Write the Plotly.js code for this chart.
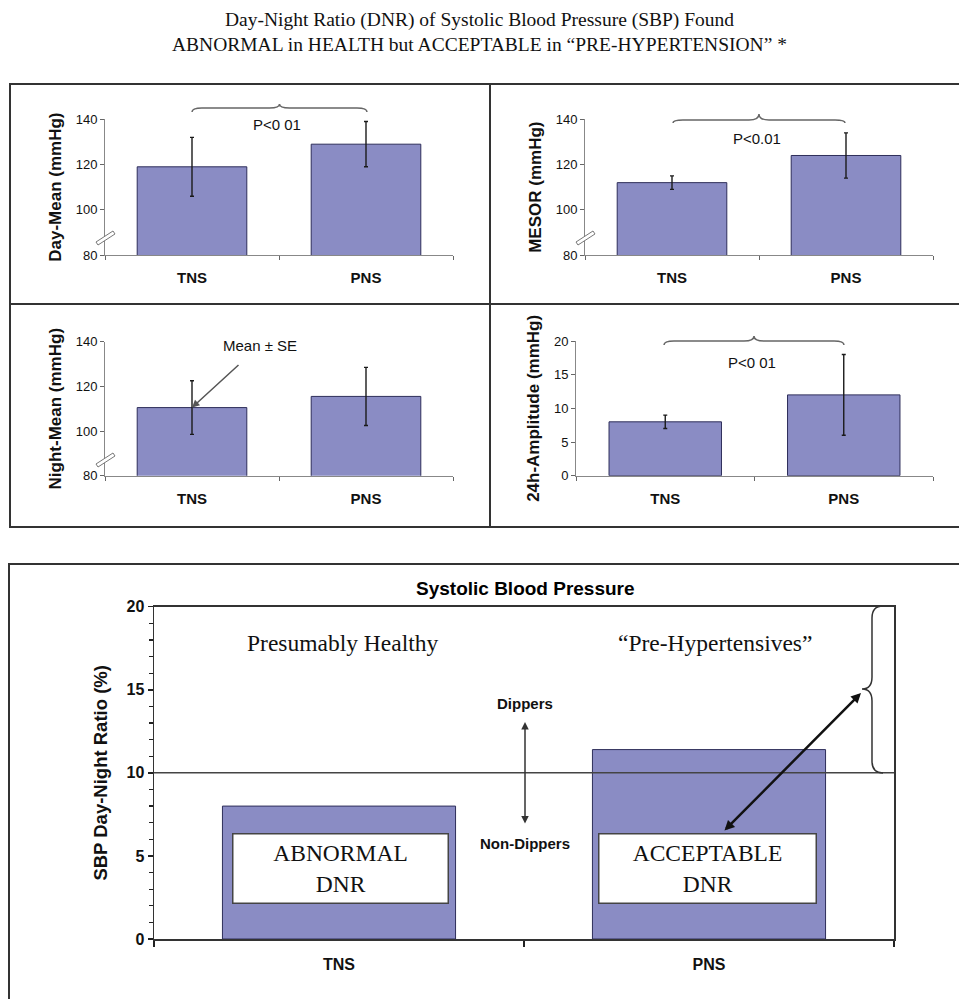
<!DOCTYPE html>
<html>
<head>
<meta charset="utf-8">
<script src="https://cdn.plot.ly/plotly-3.0.1.min.js"></script>
<style>html,body{margin:0;padding:0;background:#fff;}#chart{width:959px;height:999px;}</style>
</head>
<body>
<div id="chart"></div>
<script>
// ---------------- data ----------------
const categories = ['TNS', 'PNS'];
const dayMean = [119, 129];
const dayMeanSE = [13, 10];
const mesor = [112, 124];
const mesorSE = [3, 10];
const nightMean = [110.5, 115.5];
const nightMeanSE = [12, 13];
const amplitude = [8, 12];
const amplitudeSE = [1, 6];
const dnr = [8.0, 11.4];
const dnrThreshold = 10;
const bpTicks = [80, 100, 120, 140];
const ampTicks = [0, 5, 10, 15, 20];

// ---------------- helpers ----------------
const W = 959, H = 999;
const px = x => x / W;
const py = y => 1 - y / H;
const SANS = 'Liberation Sans, Arial, sans-serif';
const SERIF = 'Liberation Serif, Times New Roman, serif';
const barColor = '#8A8CC4';
const P = (x, y) => px(x).toFixed(5) + ',' + py(y).toFixed(5);

function hBrace(x1, x2, yEnd, yLine, yPeak) {
  const xm = (x1 + x2) / 2, r = 10;
  return 'M' + P(x1, yEnd) + ' Q' + P(x1, yLine) + ' ' + P(x1 + r, yLine) +
    ' L' + P(xm - r, yLine) + ' Q' + P(xm, yLine) + ' ' + P(xm, yPeak) +
    ' Q' + P(xm, yLine) + ' ' + P(xm + r, yLine) +
    ' L' + P(x2 - r, yLine) + ' Q' + P(x2, yLine) + ' ' + P(x2, yEnd);
}
function vBrace(xEnd, xLine, xTip, y1, y2, ym) {
  const r = 12;
  return 'M' + P(xEnd, y1) + ' Q' + P(xLine, y1) + ' ' + P(xLine, y1 + r) +
    ' L' + P(xLine, ym - r) + ' Q' + P(xLine, ym) + ' ' + P(xTip, ym) +
    ' Q' + P(xLine, ym) + ' ' + P(xLine, ym + r) +
    ' L' + P(xLine, y2 - r) + ' Q' + P(xLine, y2) + ' ' + P(xEnd, y2);
}
function breakMark(cx, cy) {
  return 'M' + P(cx - 9, cy + 4) + ' L' + P(cx + 8, cy - 7) + ' L' + P(cx + 10, cy - 4) +
    ' L' + P(cx - 7, cy + 7) + ' Z';
}

function barTrace(vals, se, xa, ya) {
  const t = {
    type: 'bar', x: categories, y: vals, xaxis: xa, yaxis: ya,
    marker: {color: barColor, line: {color: '#2E2E5A', width: 1}},
    hoverinfo: 'none', showlegend: false
  };
  if (se) t.error_y = {type: 'data', array: se, visible: true, color: '#1a1a1a', thickness: 1.4, width: 2};
  return t;
}

const data = [
  barTrace(dayMean, dayMeanSE, 'x', 'y'),
  barTrace(mesor, mesorSE, 'x2', 'y2'),
  barTrace(nightMean, nightMeanSE, 'x3', 'y3'),
  barTrace(amplitude, amplitudeSE, 'x4', 'y4'),
  barTrace(dnr, null, 'x5', 'y5')
];

function topX(domain) {
  return {
    domain: domain, type: 'category', tickson: 'boundaries', ticks: 'outside', ticklen: 4,
    tickcolor: '#666', showline: true, linecolor: '#888', linewidth: 1, showgrid: false,
    zeroline: false, fixedrange: true, ticklabelstandoff: 9,
    tickfont: {family: SANS, size: 15, weight: 'bold', color: '#111'}
  };
}
function topY(domain, range, ticks, title) {
  return {
    domain: domain, range: range, tickvals: ticks, ticks: 'outside', ticklen: 4,
    tickcolor: '#666', showline: true, linecolor: '#888', linewidth: 1, showgrid: false,
    zeroline: false, fixedrange: true,
    tickfont: {family: SANS, size: 13, color: '#111'},
    title: {text: title, font: {family: SANS, size: 17, weight: 'bold', color: '#111'}, standoff: 9}
  };
}

const boxLine = {color: '#333', width: 2};
const shapes = [
  // panel frames
  {type: 'rect', xref: 'paper', yref: 'paper', x0: px(10), x1: px(965), y0: py(527), y1: py(84), line: boxLine},
  {type: 'line', xref: 'paper', yref: 'paper', x0: px(490), x1: px(490), y0: py(527), y1: py(84), line: boxLine},
  {type: 'line', xref: 'paper', yref: 'paper', x0: px(10), x1: px(965), y0: py(304), y1: py(304), line: boxLine},
  {type: 'rect', xref: 'paper', yref: 'paper', x0: px(9), x1: px(965), y0: py(1005), y1: py(564), line: boxLine},
  // significance braces
  {type: 'path', xref: 'paper', yref: 'paper', path: hBrace(192, 367, 112, 108, 104), line: {color: '#666', width: 1.5}},
  {type: 'path', xref: 'paper', yref: 'paper', path: hBrace(673, 845, 123, 120, 114), line: {color: '#666', width: 1.5}},
  {type: 'path', xref: 'paper', yref: 'paper', path: hBrace(664, 844, 345, 341, 336), line: {color: '#666', width: 1.5}},
  // axis breaks
  {type: 'path', xref: 'paper', yref: 'paper', path: breakMark(105, 238), fillcolor: '#fff', line: {color: '#777', width: 1}},
  {type: 'path', xref: 'paper', yref: 'paper', path: breakMark(585, 238), fillcolor: '#fff', line: {color: '#777', width: 1}},
  {type: 'path', xref: 'paper', yref: 'paper', path: breakMark(105, 460), fillcolor: '#fff', line: {color: '#777', width: 1}},
  // dipper threshold
  {type: 'line', xref: 'x5 domain', yref: 'y5', x0: 0, x1: 1, y0: dnrThreshold, y1: dnrThreshold, line: {color: '#444', width: 1.5}},
  // right brace
  {type: 'path', xref: 'paper', yref: 'paper', path: vBrace(883, 872, 862, 606, 773, 689), line: {color: '#333', width: 1.5}}
];

function txt(x, y, text, font, extra) {
  return Object.assign({xref: 'paper', yref: 'paper', x: px(x), y: py(y), xanchor: 'center', yanchor: 'middle',
    text: text, showarrow: false, font: font}, extra || {});
}
const fP = {family: SANS, size: 15, color: '#111'};
const fSerif = {family: SERIF, size: 23.5, color: '#111'};
const fBold = {family: SANS, size: 15, weight: 'bold', color: '#111'};

const annotations = [
  txt(277, 125, 'P<0 01', fP),
  txt(757, 138, 'P<0.01', fP),
  txt(752, 362, 'P<0 01', fP),
  txt(260, 345, 'Mean ± SE', fP),
  {xref: 'x3', yref: 'y3', x: 'TNS', y: nightMean[0], text: '', showarrow: true, arrowhead: 2, arrowsize: 1, arrowwidth: 1.5, arrowcolor: '#555', ax: 48, ay: -44},
  txt(525, 588, 'Systolic Blood Pressure', {family: SANS, size: 19, weight: 'bold', color: '#000'}),
  txt(342, 643, 'Presumably Healthy', fSerif),
  txt(715, 643, '“Pre-Hypertensives”', fSerif),
  txt(525, 703, 'Dippers', fBold),
  txt(525, 843, 'Non-Dippers', fBold),
  {xref: 'paper', yref: 'paper', x: px(525), y: py(722), text: '', showarrow: true, arrowside: 'end+start', arrowhead: 2, arrowsize: 1, arrowwidth: 1.5, arrowcolor: '#333', ax: 0, ay: 103},
  {xref: 'paper', yref: 'paper', x: px(861), y: py(693), text: '', showarrow: true, arrowside: 'end+start', arrowhead: 2, arrowsize: 0.8, arrowwidth: 2.5, arrowcolor: '#111', ax: -138, ay: 139},
  txt(340, 868, 'ABNORMAL<br>DNR', fSerif, {width: 212, height: 66, bgcolor: '#fff', bordercolor: '#444', borderwidth: 1.5}),
  txt(707, 868, 'ACCEPTABLE<br>DNR', fSerif, {width: 214, height: 66, bgcolor: '#fff', bordercolor: '#444', borderwidth: 1.5})
];

const layout = {
  width: W, height: H, margin: {l: 0, r: 0, t: 0, b: 0},
  paper_bgcolor: '#fff', plot_bgcolor: '#fff', bargap: 0.37, showlegend: false,
  title: {
    text: 'Day-Night Ratio (DNR) of Systolic Blood Pressure (SBP) Found<br>ABNORMAL in HEALTH but ACCEPTABLE in “PRE-HYPERTENSION” *',
    x: 0.5, xanchor: 'center', xref: 'paper', y: py(26), yanchor: 'middle', yref: 'container',
    font: {family: SERIF, size: 19.5, color: '#111'}
  },
  xaxis: topX([px(105), px(453)]),
  yaxis: topY([py(255), py(119.3)], [80, 140], bpTicks, 'Day-Mean (mmHg)'),
  xaxis2: Object.assign(topX([px(585), px(933)]), {anchor: 'y2'}),
  yaxis2: Object.assign(topY([py(255), py(119.3)], [80, 140], bpTicks, 'MESOR (mmHg)'), {anchor: 'x2'}),
  xaxis3: Object.assign(topX([px(105), px(453)]), {anchor: 'y3'}),
  yaxis3: Object.assign(topY([py(475.7), py(341.7)], [80, 140], bpTicks, 'Night-Mean (mmHg)'), {anchor: 'x3'}),
  xaxis4: Object.assign(topX([px(576), px(933)]), {anchor: 'y4'}),
  yaxis4: Object.assign(topY([py(475.7), py(341)], [0, 20], ampTicks, '24h-Amplitude (mmHg)'), {anchor: 'x4'}),
  xaxis5: {
    domain: [px(154), px(894)], anchor: 'y5', type: 'category', tickson: 'boundaries', ticks: 'outside',
    ticklen: 6, tickcolor: '#222', tickwidth: 1.5, showline: true, mirror: true, linecolor: '#333', linewidth: 1.5,
    showgrid: false, zeroline: false, fixedrange: true, ticklabelstandoff: 10,
    tickfont: {family: SANS, size: 16, weight: 'bold', color: '#111'}
  },
  yaxis5: {
    domain: [py(939), py(606.7)], anchor: 'x5', range: [0, 20], dtick: 5, ticks: 'outside', ticklen: 5,
    tickcolor: '#222', tickwidth: 1.5, showline: true, mirror: true, linecolor: '#333', linewidth: 1.5,
    showgrid: false, zeroline: false, fixedrange: true,
    minor: {dtick: 1, ticks: 'outside', ticklen: 4, tickcolor: '#222', tickwidth: 1.2, showgrid: false},
    tickfont: {family: SANS, size: 16, weight: 'bold', color: '#111'},
    title: {text: 'SBP Day-Night Ratio (%)', font: {family: SANS, size: 18.5, weight: 'bold', color: '#111'}, standoff: 14}
  },
  shapes: shapes,
  annotations: annotations
};

Plotly.newPlot('chart', data, layout, {staticPlot: true, displayModeBar: false});
</script>
</body>
</html>
